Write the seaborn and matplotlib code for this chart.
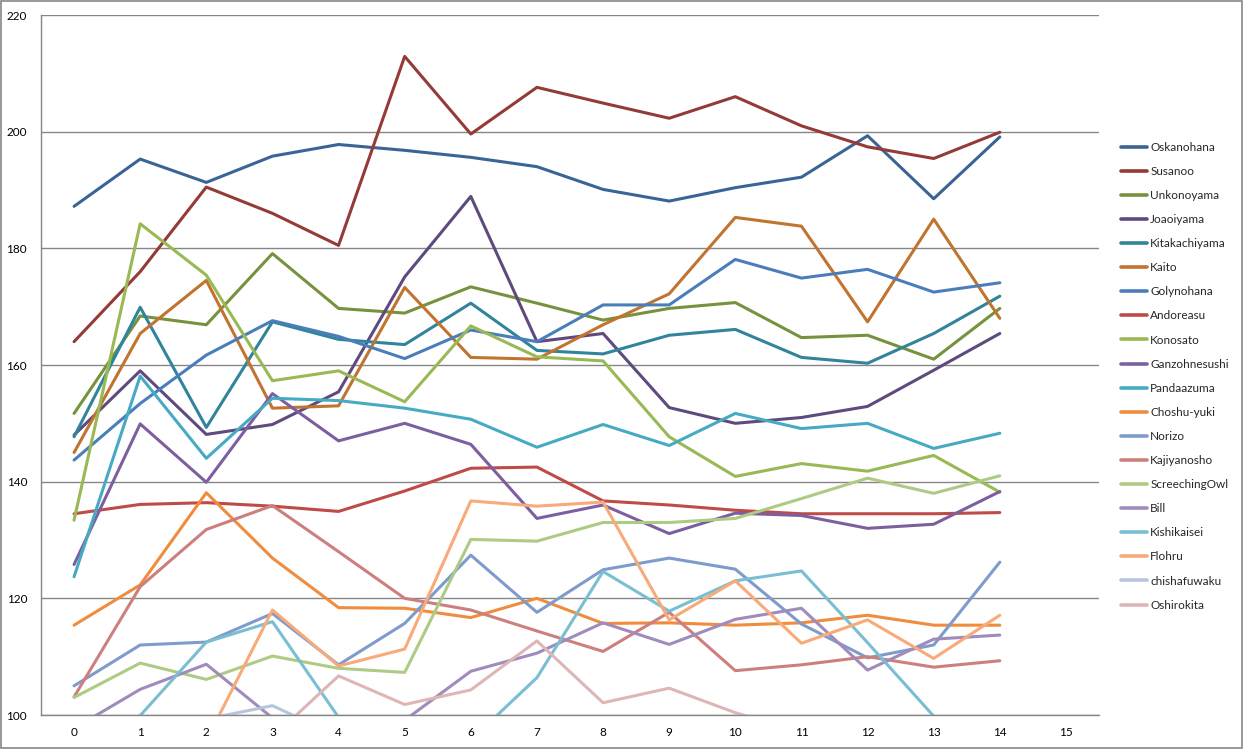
import numpy as np
import pandas as pd
import matplotlib
matplotlib.use("Agg")
import matplotlib.pyplot as plt
import seaborn as sns
from matplotlib.patches import Rectangle

x_vals = list(range(15))
x_labels = [str(i) for i in range(16)]

names = ["Oskanohana", "Susanoo", "Unkonoyama", "Joaoiyama", "Kitakachiyama", "Kaito",
         "Golynohana", "Andoreasu", "Konosato", "Ganzohnesushi", "Pandaazuma", "Choshu-yuki",
         "Norizo", "Kajiyanosho", "ScreechingOwl", "Bill", "Kishikaisei", "Flohru",
         "chishafuwaku", "Oshirokita"]

oskanohana    = [187.2, 195.3, 191.3, 195.8, 197.8, 196.8, 195.6, 194.0, 190.1, 188.1, 190.4, 192.2, 199.3, 188.5, 199.1]
susanoo       = [164.0, 176.0, 190.5, 186.0, 180.5, 212.9, 199.6, 207.6, 204.9, 202.3, 206.0, 201.0, 197.4, 195.4, 199.9]
unkonoyama    = [151.7, 168.4, 166.9, 179.1, 169.7, 168.9, 173.4, 170.6, 167.7, 169.7, 170.7, 164.7, 165.1, 161.0, 169.7]
joaoiyama     = [148.0, 159.0, 148.1, 149.8, 155.4, 175.1, 188.9, 164.0, 165.4, 152.7, 150.0, 151.0, 152.9, 159.1, 165.4]
kitakachiyama = [147.7, 169.9, 149.3, 167.4, 164.4, 163.5, 170.6, 162.5, 161.9, 165.1, 166.1, 161.3, 160.3, 165.4, 171.8]
kaito         = [145.0, 165.4, 174.5, 152.6, 153.0, 173.3, 161.3, 161.0, 166.9, 172.2, 185.3, 183.8, 167.4, 185.0, 168.0]
golynohana    = [143.7, 153.4, 161.7, 167.6, 164.9, 161.1, 166.0, 164.0, 170.3, 170.3, 178.1, 174.9, 176.4, 172.5, 174.1]
andoreasu     = [134.5, 136.1, 136.4, 135.8, 134.9, 138.4, 142.3, 142.5, 136.7, 136.0, 135.1, 134.5, 134.5, 134.5, 134.7]
konosato      = [133.4, 184.2, 175.4, 157.3, 159.0, 153.7, 166.7, 161.4, 160.7, 147.7, 140.9, 143.1, 141.8, 144.5, 138.2]
ganzohnesushi = [125.8, 149.9, 139.9, 155.1, 147.0, 150.0, 146.4, 133.7, 136.0, 131.1, 134.6, 134.2, 132.0, 132.7, 138.3]
pandaazuma    = [123.7, 158.1, 144.0, 154.3, 153.9, 152.6, 150.7, 145.9, 149.8, 146.2, 151.7, 149.1, 150.0, 145.7, 148.3]
choshu_yuki   = [115.4, 122.3, 138.1, 126.9, 118.4, 118.3, 116.7, 120.0, 115.7, 115.8, 115.4, 115.8, 117.1, 115.4, 115.4]
norizo        = [105.0, 112.0, 112.5, 117.4, 108.6, 115.7, 127.4, 117.6, 124.9, 126.9, 125.0, 115.6, 109.8, 112.0, 126.2]
kajiyanosho   = [103.1, 122.0, 131.8, 135.9, 128.0, 120.0, 118.0, 114.4, 110.9, 117.6, 107.6, 108.6, 110.0, 108.2, 109.3]
screechingowl = [103.0, 108.9, 106.1, 110.1, 108.0, 107.3, 130.1, 129.8, 133.0, 133.0, 133.7, 137.1, 140.6, 138.0, 141.0]
bill          = [97.7, 104.4, 108.7, 99.5, 96.0, 99.1, 107.5, 110.6, 115.8, 112.1, 116.4, 118.3, 107.7, 113.0, 113.7]
kishikaisei   = [95.0, 99.9, 112.5, 116.0, 99.6, 94.0, 95.7, 106.4, 124.6, 117.8, 123.0, 124.7, 112.4, 99.8, 95.0]
flohru        = [92.0, 94.0, 95.6, 118.0, 108.4, 111.3, 136.7, 135.8, 136.5, 116.3, 123.0, 112.3, 116.3, 109.7, 117.1]
chishafuwaku  = [96.0, 97.0, 99.3, 101.6, 96.3, 95.0, 94.0, 93.0, 94.0, 93.0, 92.0, 93.0, 92.0, 91.0, 92.0]
oshirokita    = [93.0, 94.0, 95.0, 96.2, 106.7, 101.8, 104.3, 112.7, 102.1, 104.6, 100.4, 97.0, 95.0, 94.0, 93.0]

series = [oskanohana, susanoo, unkonoyama, joaoiyama, kitakachiyama, kaito, golynohana,
          andoreasu, konosato, ganzohnesushi, pandaazuma, choshu_yuki, norizo, kajiyanosho,
          screechingowl, bill, kishikaisei, flohru, chishafuwaku, oshirokita]

colors = ["#3A6496", "#943A37", "#77923E", "#5F4A7D", "#31849B", "#C0742F",
          "#4A7EBB", "#BE4B48", "#98B954", "#7D5FA0", "#46AAC5", "#F08C3E",
          "#7E9BCB", "#CD7F7D", "#AECB84", "#A08BBD", "#79BED2", "#F8AA78",
          "#B5C5E0", "#DDB6B5"]

rows = []
for name, vals in zip(names, series):
    for xi, v in zip(x_vals, vals):
        rows.append({"x": xi, "value": v, "series": name})
df = pd.DataFrame(rows)

sns.set_theme(style="white")
plt.rcParams["font.family"] = ["Lato", "DejaVu Sans"]

fig = plt.figure(figsize=(12.44, 7.49), dpi=100)
W, H = 1244, 749
ax = fig.add_axes([41 / W, 1 - 715 / H, (1099 - 41) / W, (715 - 15) / H])

palette = dict(zip(names, colors))
sns.lineplot(data=df, x="x", y="value", hue="series", hue_order=names, palette=palette,
             sort=False, linewidth=2.2, ax=ax, legend=True)

ax.set_xlim(-0.5, 15.5)
ax.set_ylim(100, 220)
ax.set_yticks(range(100, 221, 20))
ax.yaxis.grid(True, color="#868686", linewidth=1.0)
ax.xaxis.grid(False)
ax.set_axisbelow(True)

ax.set_xticks(np.arange(-0.5, 15.6, 1.0))
ax.set_xticklabels([])
ax.set_xticks(np.arange(0, 16), minor=True)
ax.set_xticklabels(x_labels, minor=True)
ax.tick_params(axis="x", which="major", direction="out", length=5, color="#868686", width=1)
ax.tick_params(axis="x", which="minor", length=0, labelsize=8.5, pad=9, labelcolor="#000000")
ax.tick_params(axis="y", direction="out", length=4, color="#868686", width=1, labelsize=8.5,
               pad=6, labelcolor="#000000")
ax.set_xlabel("")
ax.set_ylabel("")

for s in ["top", "right"]:
    ax.spines[s].set_visible(False)
for s in ["left", "bottom"]:
    ax.spines[s].set_color("#868686")
    ax.spines[s].set_linewidth(1.0)

handles, labels = ax.get_legend_handles_labels()
ax.legend_.remove()
leg = fig.legend(handles, labels, loc="upper left", bbox_to_anchor=(1116 / W, 1 - 137 / H),
                 frameon=False, fontsize=8.5, handlelength=2.2, handletextpad=0.3,
                 labelspacing=1.11, borderaxespad=0)
for line in leg.get_lines():
    line.set_linewidth(2.6)

fig.patches.append(Rectangle((0.0005, 0.0008), 0.998, 0.998, transform=fig.transFigure,
                             fill=False, edgecolor="#868686", linewidth=1.2))

fig.savefig("out.png", dpi=100)
